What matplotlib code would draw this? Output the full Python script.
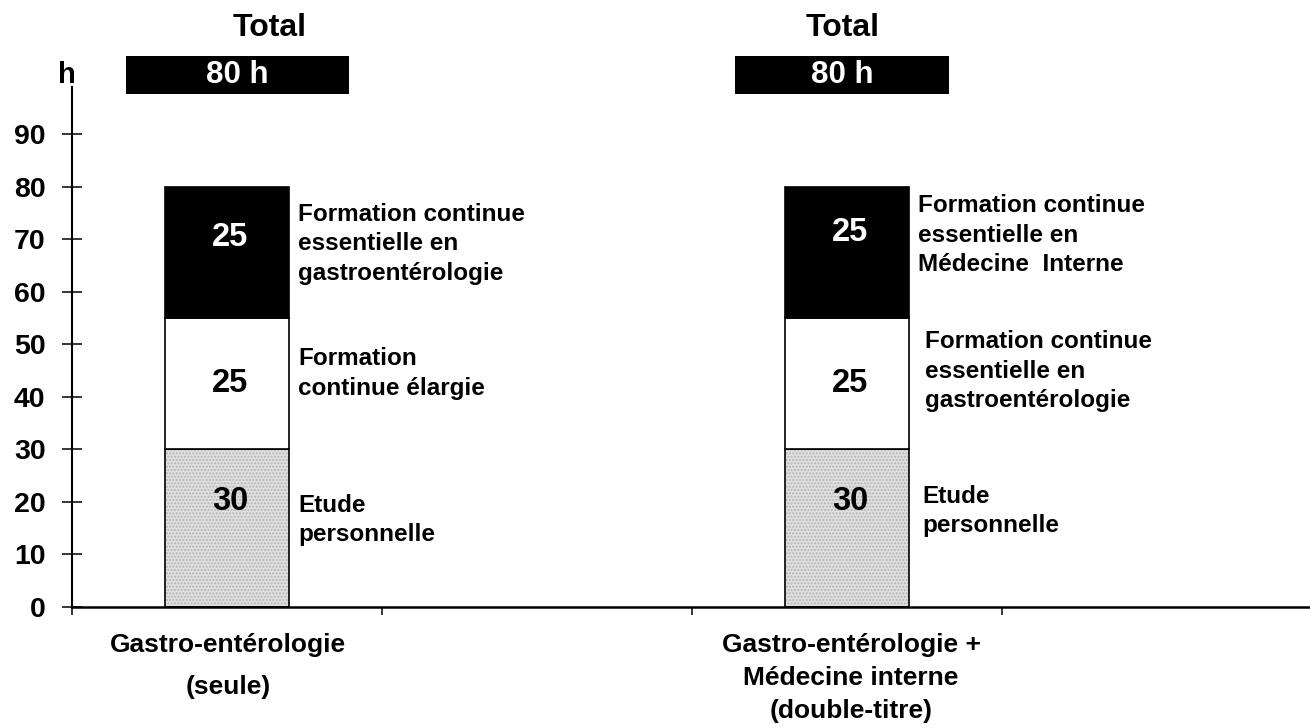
import matplotlib
matplotlib.use("Agg")
import matplotlib.pyplot as plt
from matplotlib.patches import Rectangle

plt.rcParams['font.family'] = ['Liberation Sans', 'DejaVu Sans']
plt.rcParams['font.weight'] = 'bold'

# ---- data ----
categories = ["Gastro-entérologie\n(seule)",
              "Gastro-entérologie +\nMédecine interne\n(double-titre)"]
etude = [30, 30]
continue_mid = [25, 25]
continue_top = [25, 25]
totals = [80, 80]
labels_bottom = ["Etude\npersonnelle", "Etude\npersonnelle"]
labels_mid = ["Formation\ncontinue élargie",
              "Formation continue\nessentielle en\ngastroentérologie"]
labels_top = ["Formation continue\nessentielle en\ngastroentérologie",
              "Formation continue\nessentielle en\nMédecine  Interne"]
yticks = [0, 10, 20, 30, 40, 50, 60, 70, 80, 90]

W, H = 1310, 728
fig = plt.figure(figsize=(W / 100, H / 100), dpi=100)
x0, x1, yb, yt = 72, 1312, 607, 86.7
ax = fig.add_axes([x0 / W, 1 - yb / H, (x1 - x0) / W, (yb - yt) / H])
ax.set_xlim(0, 4)
ax.set_ylim(0, 99)

pos = [0.5, 2.5]
bw = 0.4
# bottom segment (dotted light grey)
ax.bar(pos, etude, width=bw, color='#e0e0e0', hatch='.....',
       edgecolor='#b4b4b4', linewidth=0, zorder=2)
ax.bar(pos, etude, width=bw, facecolor='none', edgecolor='black',
       linewidth=1.2, zorder=3)
bottom2 = [a for a in etude]
ax.bar(pos, continue_mid, width=bw, bottom=bottom2, color='white',
       edgecolor='black', linewidth=1.2, zorder=3)
bottom3 = [a + b for a, b in zip(etude, continue_mid)]
ax.bar(pos, continue_top, width=bw, bottom=bottom3, color='black',
       edgecolor='black', linewidth=1.2, zorder=3)

# spines / ticks
for s in ['top', 'right']:
    ax.spines[s].set_visible(False)
ax.spines['left'].set_linewidth(1.5)
ax.spines['bottom'].set_linewidth(1.8)
ax.set_yticks(yticks)
ax.set_yticklabels([str(v) for v in yticks], fontsize=20.5, fontweight='bold')
ax.tick_params(axis='y', direction='inout', length=14, width=1.1, pad=12)
ax.set_xticks([0, 1, 2, 3, 4])
ax.set_xticklabels([])
ax.tick_params(axis='x', direction='out', length=6, width=1.1)

# "h" unit label
ax.text(-0.016, 101.2, 'h', ha='center', va='center', fontsize=21,
        fontweight='bold', clip_on=False)

# segment values inside bars
num_y_top = [70.4, 71.3]
num_y_mid = [42.6, 42.6]
num_y_bot = [20, 20]
for i, p in enumerate(pos):
    ax.text(p + 0.01, num_y_top[i], str(continue_top[i]), color='white',
            ha='center', va='center', fontsize=23.5, fontweight='bold', zorder=4)
    ax.text(p + 0.01, num_y_mid[i], str(continue_mid[i]), color='black',
            ha='center', va='center', fontsize=23.5, fontweight='bold', zorder=4)
    ax.text(p + 0.01, num_y_bot[i], str(etude[i]), color='black',
            ha='center', va='center', fontsize=23.5, fontweight='bold', zorder=4)

# side labels
side_x = [[0.729, 0.729, 0.729], [2.729, 2.752, 2.742]]
side_y = [[69.1, 44.4, 16.6], [70.7, 44.9, 18.3]]
for i in range(2):
    for j, lab in enumerate([labels_top[i], labels_mid[i], labels_bottom[i]]):
        ax.text(side_x[i][j], side_y[i][j], lab, ha='left', va='center',
                fontsize=17.5, fontweight='bold', linespacing=1.36)

# Total headers with black boxes
box_cx = [0.534, 2.485]
box_w = [0.72, 0.69]
title_cx = [0.636, 2.487]
for i in range(2):
    ax.add_patch(Rectangle((box_cx[i] - box_w[i] / 2, 97.6), box_w[i], 7.2,
                           facecolor='black', edgecolor='none',
                           clip_on=False, zorder=5))
    ax.text(box_cx[i], 101.2, f"{totals[i]} h", color='white', ha='center',
            va='center', fontsize=22.5, fontweight='bold', clip_on=False,
            zorder=6)
    ax.text(title_cx[i], 110.2, "Total", ha='center', va='center',
            fontsize=23, fontweight='bold', clip_on=False)

# category labels
cat_x = [0.503, 2.513]
cat_ls = [1.93, 1.46]
for i, c in enumerate(categories):
    ax.text(cat_x[i], -5.0, c, ha='center', va='top', fontsize=19,
            fontweight='bold', linespacing=cat_ls[i], clip_on=False)

fig.savefig('out.png', dpi=100)
